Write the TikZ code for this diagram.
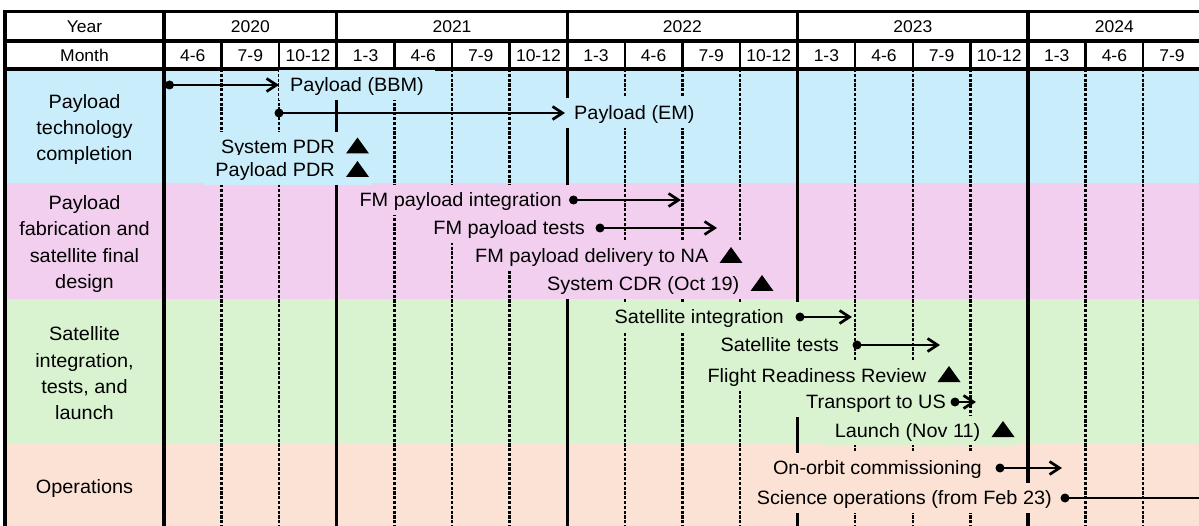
\documentclass[tikz,border=0pt]{standalone}
\usepackage{fontspec}
\setmainfont{Liberation Sans}[FakeStretch=1.03]
\usetikzlibrary{arrows.meta}

\definecolor{rowblue}{HTML}{CAEDFB}
\definecolor{rowpink}{HTML}{F2CEEF}
\definecolor{rowgreen}{HTML}{D9F2D0}
\definecolor{rowpeach}{HTML}{FBE2D5}

\tikzset{
  frameline/.style={line width=3.1pt},
  monthline/.style={line width=2.4pt},
  quarterline/.style={line width=2.3pt, dash pattern=on 3.2pt off 1.6pt},
  headtext/.style={font=\fontsize{17}{20}\selectfont, inner sep=0pt, text height=12.2pt, text depth=0pt},
  rowtitle/.style={font=\fontsize{19.3}{26.3}\selectfont, align=center, inner sep=0pt},
  task/.style={font=\fontsize{19.3}{22}\selectfont, inner xsep=11pt, inner ysep=3.5pt, text height=18pt, text depth=4.2pt},
  dot/.style={circle, fill=black, inner sep=0pt, minimum size=9pt},
  span/.style={line width=2.7pt, -{Straight Barb[length=10pt,width=13pt]}},
  spanopen/.style={line width=2.7pt},
  milestone/.pic={\fill (-11.5,0) -- (11.5,0) -- (0,-16) -- cycle;},
}
% label text followed by room for its milestone triangle
\newcommand{\withmark}[1]{#1\kern26pt}

\begin{document}
\begin{tikzpicture}[x=1pt,y=-1pt]
\clip (0,0) rectangle (1199,526);
\fill[white] (0,0) rectangle (1199,526);

% row bands
\fill[rowblue]  (5,69)  rectangle (1205,183);
\fill[rowpink]  (5,183) rectangle (1205,299);
\fill[rowgreen] (5,299) rectangle (1205,443);
\fill[rowpeach] (5,443) rectangle (1205,540);

% quarter separators: solid in the month row, dotted in the body
\foreach \i in {1,2,4,5,6,8,9,10,12,13,14,16,17} {
  \draw[monthline]   ({164+57.6*\i},41) -- ({164+57.6*\i},69);
  \draw[quarterline] ({164+57.6*\i},69) -- ({164+57.6*\i},540);
}
% year separators and frame
\foreach \i in {0,3,7,11,15,18}
  \draw[frameline] ({164+57.6*\i},11.5) -- ({164+57.6*\i},540);
\draw[frameline] (5,540) |- (1205,11.5);
\draw[frameline] (5,41) -- (1205,41);
\draw[frameline] (5,69) -- (1205,69);

% header
\node[headtext] (hyear)  at (84.5,26.5) {Year};
\node[headtext] (hmonth) at (84.5,55)   {Month};
\node[headtext] (y2020) at (250.4,26.5)  {2020};
\node[headtext] (y2021) at (452.0,26.5)  {2021};
\node[headtext] (y2022) at (682.4,26.5)  {2022};
\node[headtext] (y2023) at (912.8,26.5)  {2023};
\node[headtext] (y2024) at (1114.4,26.5) {2024};
\foreach \m [count=\i from 0] in {4-6,7-9,10-12,1-3,4-6,7-9,10-12,1-3,4-6,7-9,10-12,1-3,4-6,7-9,10-12,1-3,4-6,7-9}
  \node[headtext] (m\i) at ({164+57.6*(\i+0.5)},55) {\m};

% row titles
\node[rowtitle] (t1) at (84.5,129.5) {Payload\\technology\\completion};
\node[rowtitle] (t2) at (84.5,244)   {Payload\\fabrication and\\satellite final\\design};
\node[rowtitle] (t3) at (84.5,373.5) {Satellite\\integration,\\tests, and\\launch};
\node[rowtitle] (t4) at (84.5,488.5) {Operations};

% payload technology completion
\node[task, fill=rowblue, anchor=west] (bbm) at (279,85) {Payload (BBM)};
\node[dot] (bbm-s) at (169.5,85) {};
\draw[span] (bbm-s.center) -- (bbm.west);

\node[task, fill=rowblue, anchor=west] (em) at (563,113) {Payload (EM)};
\node[dot] (em-s) at (279,113) {};
\draw[span] (em-s.center) -- ([xshift=2pt]em.west);

\node[task, fill=rowblue, anchor=base east] (spdr) at (372,153.5) {\withmark{System PDR}};
\pic (spdr-m) at ([xshift=-14.5pt]spdr.base east) {milestone};
\node[task, fill=rowblue, anchor=base east] (ppdr) at (372,177) {\withmark{Payload PDR}};
\pic (ppdr-m) at ([xshift=-14.5pt]ppdr.base east) {milestone};

% payload fabrication and satellite final design
\node[task, fill=rowpink, anchor=east] (fmint) at (573,200) {FM payload integration};
\node[dot] (fmint-s) at (573.5,200) {};
\coordinate (fmint-e) at (681,200);
\draw[span] (fmint-s.center) -- (fmint-e);

\node[task, fill=rowpink, anchor=east] (fmtest) at (596,228) {FM payload tests};
\node[dot] (fmtest-s) at (600,228) {};
\coordinate (fmtest-e) at (717,228);
\draw[span] (fmtest-s.center) -- (fmtest-e);

\node[task, fill=rowpink, anchor=base east] (fmdel) at (745.5,263) {\withmark{FM payload delivery to NA}};
\pic (fmdel-m) at ([xshift=-14.5pt]fmdel.base east) {milestone};
\node[task, fill=rowpink, anchor=base east] (cdr) at (776.5,291) {\withmark{System CDR (Oct 19)}};
\pic (cdr-m) at ([xshift=-14.5pt]cdr.base east) {milestone};

% satellite integration, tests, and launch
\node[task, fill=rowgreen, anchor=east] (sint) at (801,317) {Satellite integration\kern6pt};
\node[dot] (sint-s) at (800,317) {};
\coordinate (sint-e) at (852,317);
\draw[span] (sint-s.center) -- (sint-e);

\node[task, fill=rowgreen, anchor=east] (stest) at (850,345) {Satellite tests};
\node[dot] (stest-s) at (857,345) {};
\coordinate (stest-e) at (940,345);
\draw[span] (stest-s.center) -- (stest-e);

\node[task, fill=rowgreen, anchor=base east] (frr) at (963.5,382) {\withmark{Flight Readiness Review}};
\pic (frr-m) at ([xshift=-14.5pt]frr.base east) {milestone};

\node[task, fill=rowgreen, anchor=east] (trans) at (957,402) {Transport to US};
\node[dot] (trans-s) at (955,402) {};
\coordinate (trans-e) at (976,402);
\draw[span] (trans-s.center) -- (trans-e);

\node[task, fill=rowgreen, anchor=base east] (launch) at (1017.5,437) {\withmark{Launch (Nov 11)}};
\pic (launch-m) at ([xshift=-14.5pt]launch.base east) {milestone};

% operations
\node[task, fill=rowpeach, anchor=east] (comm) at (993,468) {On-orbit commissioning};
\node[dot] (comm-s) at (1000,468) {};
\coordinate (comm-e) at (1062,468);
\draw[span] (comm-s.center) -- (comm-e);

\node[task, fill=rowpeach, anchor=east] (sci) at (1063,498) {Science operations (from Feb 23)};
\node[dot] (sci-s) at (1065,498) {};
\coordinate (sci-e) at (1205,498);
\draw[spanopen] (sci-s.center) -- (sci-e);
\end{tikzpicture}
\end{document}
